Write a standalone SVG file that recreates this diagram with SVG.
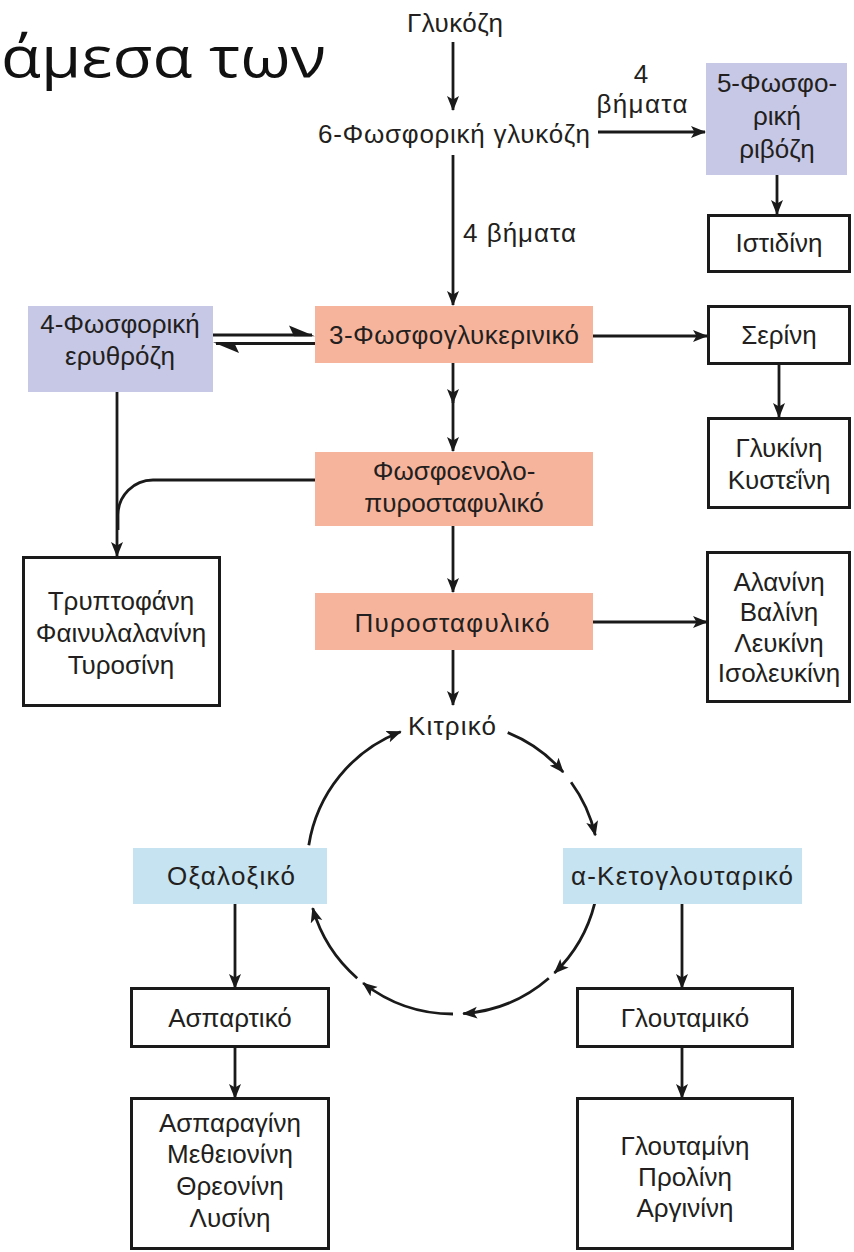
<svg xmlns="http://www.w3.org/2000/svg" width="854" height="1252" viewBox="0 0 854 1252">
<defs>
<style>
text{font-family:"Liberation Sans",Arial,sans-serif;font-size:26px;fill:#231f20;text-anchor:middle}
.s{text-anchor:start}
.lav{fill:#c7c8e6}
.sal{fill:#f7b49c}
.blu{fill:#c6e3f2}
.box{fill:#fff;stroke:#1a1a1a;stroke-width:3}
.c path,.c line{fill:none;stroke:#1a1a1a;stroke-width:2.8}
.ar{marker-end:url(#ah)}
.c .hp{fill:#1a1a1a;stroke:none}
</style>
<marker id="ah" markerUnits="userSpaceOnUse" markerWidth="17" markerHeight="13" refX="14" refY="6.5" orient="auto">
<path d="M0,0.5 L15,6.5 L0,12.5 L3.5,6.5 Z" fill="#1a1a1a"/>
</marker>
</defs>
<rect width="854" height="1252" fill="#fff"/>
<text class="s" x="1" y="77" style="font-family:'Open Sans','Liberation Sans',sans-serif;font-size:57px;fill:#111" textLength="325" lengthAdjust="spacingAndGlyphs">άμεσα των</text>

<g class="c" id="connectors">
<path class="ar" d="M453,42 V110"/>
<path class="ar" d="M598,132 H705"/>
<path class="ar" d="M453,155 V305"/>
<path class="ar" d="M777,175 V214"/>
<line x1="213" y1="335" x2="312" y2="335"/>
<path class="hp" d="M315,336.3 L289,325.5 L294,336.3 Z"/>
<line x1="316" y1="343.5" x2="216" y2="343.5"/>
<path class="hp" d="M213,342.2 L239,353 L234,342.2 Z"/>
<path class="ar" d="M593,336 H707"/>
<path class="ar" d="M779,364 V417"/>
<path class="ar" d="M453,363 V403"/>
<path class="ar" d="M453,400 V451"/>
<path class="ar" d="M117,392 V556"/>
<path d="M315,480 H153 A35,35 0 0 0 118,515 V530"/>
<path class="ar" d="M453,526 V592"/>
<path class="ar" d="M593,622 H707"/>
<path class="ar" d="M453,650 V705"/>
<path class="ar" d="M507.7,732.6 A146,146 0 0 1 563.2,772.2"/>
<path class="ar" d="M571.1,782.2 A146,146 0 0 1 595.3,835.2"/>
<path class="ar" d="M594.7,903.3 A146,146 0 0 1 554.4,973"/>
<path class="ar" d="M548.8,978.2 A146,146 0 0 1 463.2,1013.6"/>
<path class="ar" d="M453,1014 A146,146 0 0 1 363.1,983"/>
<path class="ar" d="M357.2,978.2 A146,146 0 0 1 312.7,908.2"/>
<path class="ar" d="M308.8,845.2 A146,146 0 0 1 400.7,731.7"/>
<path class="ar" d="M235,904 V988"/>
<path class="ar" d="M235,1047 V1098"/>
<path class="ar" d="M682,904 V988"/>
<path class="ar" d="M682,1047 V1098"/>
</g>

<g id="glucose"><text x="455" y="32" textLength="96">Γλυκόζη</text></g>
<g id="g6p"><text x="454" y="143" textLength="272">6-Φωσφορική γλυκόζη</text></g>
<g id="label-4steps-a"><text x="641" y="83">4</text><text x="642" y="113" textLength="91">βήματα</text></g>
<g id="label-4steps-b"><text class="s" x="463" y="242" textLength="113">4 βήματα</text></g>
<g id="ribose5p"><rect class="lav" x="706" y="63" width="141" height="112"/>
<text x="777" y="92">5-Φωσφο-</text><text x="777" y="125">ρική</text><text x="777" y="158">ριβόζη</text></g>
<g id="histidine"><rect class="box" x="708.5" y="215.5" width="141" height="56"/><text x="779" y="252">Ιστιδίνη</text></g>
<g id="erythrose4p"><rect class="lav" x="28" y="306" width="185" height="86"/>
<text x="120" y="333">4-Φωσφορική</text><text x="120" y="365">ερυθρόζη</text></g>
<g id="pg3"><rect class="sal" x="315" y="306" width="278" height="57"/><text x="454" y="344" textLength="250">3-Φωσφογλυκερινικό</text></g>
<g id="serine"><rect class="box" x="708.5" y="306.5" width="141" height="57"/><text x="779" y="344">Σερίνη</text></g>
<g id="glycine"><rect class="box" x="708.5" y="418.5" width="141" height="89"/>
<text x="779" y="457">Γλυκίνη</text><text x="779" y="489">Κυστεΐνη</text></g>
<g id="pep"><rect class="sal" x="315" y="452" width="278" height="74"/>
<text x="454" y="480">Φωσφοενολο-</text><text x="454" y="512">πυροσταφυλικό</text></g>
<g id="aromatic"><rect class="box" x="23.5" y="557.5" width="196" height="148"/>
<text x="121" y="610">Τρυπτοφάνη</text><text x="121" y="642">Φαινυλαλανίνη</text><text x="121" y="674">Τυροσίνη</text></g>
<g id="pyruvate"><rect class="sal" x="315" y="593" width="278" height="57"/><text x="452" y="632" textLength="195">Πυροσταφυλικό</text></g>
<g id="alanine"><rect class="box" x="707.5" y="552.5" width="142" height="149"/>
<text x="779" y="591">Αλανίνη</text><text x="779" y="621.3">Βαλίνη</text><text x="779" y="651.6">Λευκίνη</text><text x="779" y="682">Ισολευκίνη</text></g>
<g id="citrate"><text x="452" y="735" textLength="88">Κιτρικό</text></g>
<g id="oxaloacetate"><rect class="blu" x="133" y="848" width="194" height="56"/><text x="231" y="885" textLength="128">Οξαλοξικό</text></g>
<g id="akg"><rect class="blu" x="563" y="848" width="239" height="56"/><text x="682" y="885" textLength="222">α-Κετογλουταρικό</text></g>
<g id="aspartate"><rect class="box" x="131.5" y="988.5" width="197" height="58"/><text x="230" y="1027">Ασπαρτικό</text></g>
<g id="glutamate"><rect class="box" x="577.5" y="988.5" width="215" height="58"/><text x="685" y="1027">Γλουταμικό</text></g>
<g id="asp-family"><rect class="box" x="131.5" y="1098.5" width="197" height="150"/>
<text x="230" y="1132">Ασπαραγίνη</text><text x="230" y="1163">Μεθειονίνη</text><text x="230" y="1195">Θρεονίνη</text><text x="230" y="1227">Λυσίνη</text></g>
<g id="glu-family"><rect class="box" x="577.5" y="1098.5" width="215" height="150"/>
<text x="685" y="1155">Γλουταμίνη</text><text x="685" y="1186">Προλίνη</text><text x="685" y="1217">Αργινίνη</text></g>
</svg>
